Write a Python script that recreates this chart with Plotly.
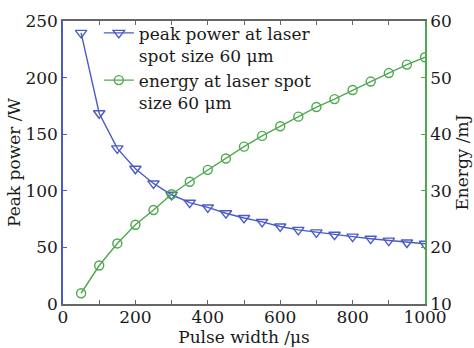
import plotly.graph_objects as go

pulse_width = [50, 100, 150, 200, 250, 300, 350, 400, 450, 500,
               550, 600, 650, 700, 750, 800, 850, 900, 950, 1000]
peak_power = [239.5, 168.5, 137.5, 119.5, 106.5, 96.5, 89.5, 85.3, 80.2, 76.0,
              72.5, 68.5, 65.5, 63.3, 61.2, 59.5, 57.7, 56.0, 54.3, 53.2]
energy = [11.9, 16.8, 20.7, 24.0, 26.6, 29.4, 31.6, 33.7, 35.7, 37.8,
          39.7, 41.4, 43.1, 44.8, 46.2, 47.8, 49.3, 50.8, 52.3, 53.6]

name_power = "peak power at laser<br>spot size 60 μm"
name_energy = "energy at laser spot<br>size 60 μm"

BLUE = "#4a5cc4"
GREEN = "#4fa84f"
FONT = "DejaVu Serif"
TXT = "#1a1a1a"

fig = go.Figure()
fig.add_trace(go.Scatter(
    x=pulse_width, y=peak_power, name=name_power, mode="lines+markers",
    line=dict(color=BLUE, width=1.4),
    marker=dict(symbol="triangle-down-open", size=10, color=BLUE, line=dict(width=1.4)),
))
fig.add_trace(go.Scatter(
    x=pulse_width, y=energy, name=name_energy, mode="lines+markers", yaxis="y2",
    line=dict(color=GREEN, width=1.4),
    marker=dict(symbol="circle-open", size=9, color=GREEN, line=dict(width=1.4)),
))

fig.update_layout(
    width=474, height=348,
    margin=dict(l=63, r=49, t=21, b=44),
    paper_bgcolor="white", plot_bgcolor="white",
    font=dict(family=FONT, size=17, color=TXT),
    showlegend=True,
    legend=dict(x=0.099, y=1.02, xanchor="left", yanchor="top",
                bgcolor="rgba(0,0,0,0)", valign="top",
                font=dict(family=FONT, size=17, color=TXT), tracegroupgap=0),
    xaxis=dict(range=[0, 1000], dtick=200, tick0=0, showgrid=False, zeroline=False,
               automargin=False,
               showline=True, linecolor="#666", linewidth=1.5, mirror="ticks",
               ticks="inside", ticklen=4, tickcolor="#666",
               minor=dict(dtick=100, ticks="inside", ticklen=4, tickcolor="#666"),
               ticklabelstandoff=-3,
               title=dict(text="Pulse width /μs", standoff=0, font=dict(size=17)),
               tickfont=dict(size=17)),
    yaxis=dict(range=[0, 250], dtick=50, showgrid=False, zeroline=False,
               automargin=False,
               showline=True, linecolor=BLUE, linewidth=1.5,
               ticks="inside", ticklen=4, tickcolor=BLUE,
               title=dict(text="Peak power /W", standoff=0, font=dict(size=17)),
               tickfont=dict(size=17)),
    yaxis2=dict(range=[10, 60], dtick=10, overlaying="y", side="right",
                showgrid=False, zeroline=False, automargin=False,
                showline=True, linecolor=GREEN, linewidth=1.5,
                ticks="inside", ticklen=4, tickcolor=GREEN,
                title=dict(text="Energy /mJ", standoff=2, font=dict(size=17)),
                tickfont=dict(size=17)),
)

fig.write_html("out.html", config={"displayModeBar": False},
               post_script="document.body.style.margin='0';document.body.style.padding='0';")
